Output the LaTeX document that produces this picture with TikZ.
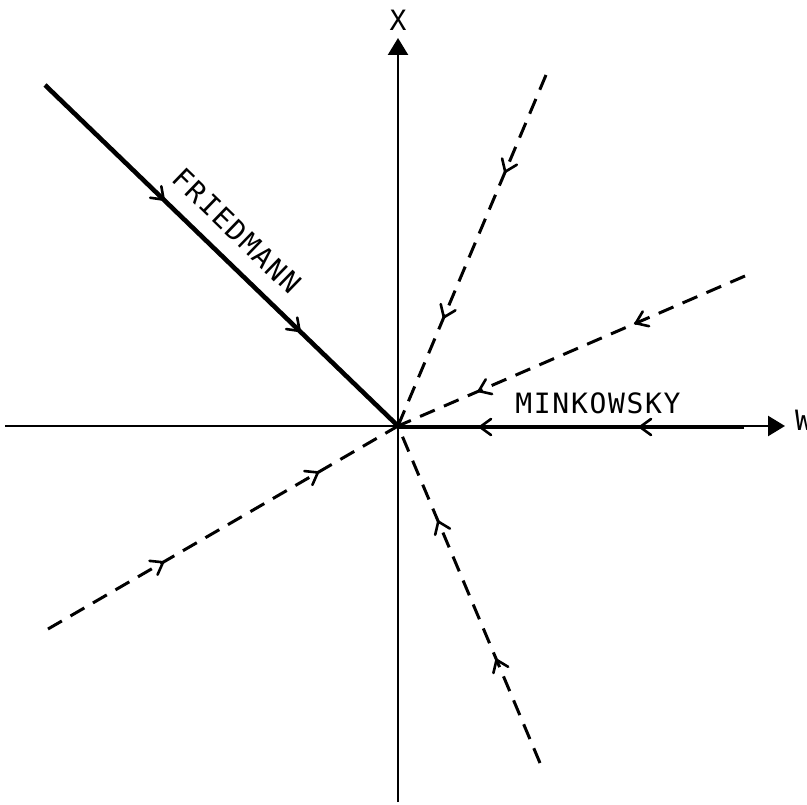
\documentclass[tikz,border=0pt]{standalone}
\usepackage{fontspec}
\newfontfamily\plotfont[LetterSpace=6]{DejaVu Sans Mono}
\usetikzlibrary{arrows.meta,decorations.markings}
\begin{document}
\begin{tikzpicture}[x=1pt,y=-1pt,
  axis/.style={line width=2.4pt},
  heavy/.style={line width=4.6pt},
  dashline/.style={line width=3pt, dash pattern=on 16pt off 10pt},
  lbl/.style={font=\plotfont\fontsize{28}{30}\selectfont, inner sep=0pt},
  vtip/.code={\draw[solid,line width=2.6pt,line cap=round,line join=miter] (-11pt,8pt) -- (0pt,0pt) -- (-11pt,-8pt);},
  mk/.style 2 args={postaction={decorate, decoration={markings,
     mark=at position #1pt with {\tikzset{vtip}},
     mark=at position #2pt with {\tikzset{vtip}}}}}
]
\useasboundingbox (0,0) rectangle (807,805);
\fill[white] (0,0) rectangle (807,805);
% points
\coordinate (O) at (398,426);
\coordinate (Xtop) at (398,38);
\coordinate (Xbot) at (398,802);
\coordinate (Wl) at (5,426);
\coordinate (Wr) at (785,426);
\coordinate (F0) at (45,85);
\coordinate (M0) at (744,427);
\coordinate (M1) at (398,427);
\coordinate (U1) at (546,75);
\coordinate (U2) at (745,276);
\coordinate (L1) at (48,629);
\coordinate (L2) at (540,763);
% axes
\draw[axis,-{Triangle[length=17pt,width=20pt]}] (Xbot) -- (Xtop);
\draw[axis,-{Triangle[length=17pt,width=20pt]}] (Wl) -- (Wr);
\node[lbl] (xl) at (398,20) {X};
\node[lbl,anchor=west] (wl) at (795,420) {W};
% Friedmann
\draw[heavy,mk={165}{354}] (F0) -- (O);
\node[lbl,rotate=-44] (fr) at (237,231) {FRIEDMANN};
% Minkowsky
\draw[heavy,mk={104}{264}] (M0) -- (M1);
\node[lbl] (mi) at (598,403) {MINKOWSKY};
% dashed lines
\draw[dashline,mk={105}{263}] (U1) -- (O);
\draw[dashline,mk={119}{290}] (U2) -- (O);
\draw[dashline,mk={133}{312}] (L1) -- (O);
\draw[dashline,mk={112}{262}] (L2) -- (O);
\end{tikzpicture}
\end{document}
